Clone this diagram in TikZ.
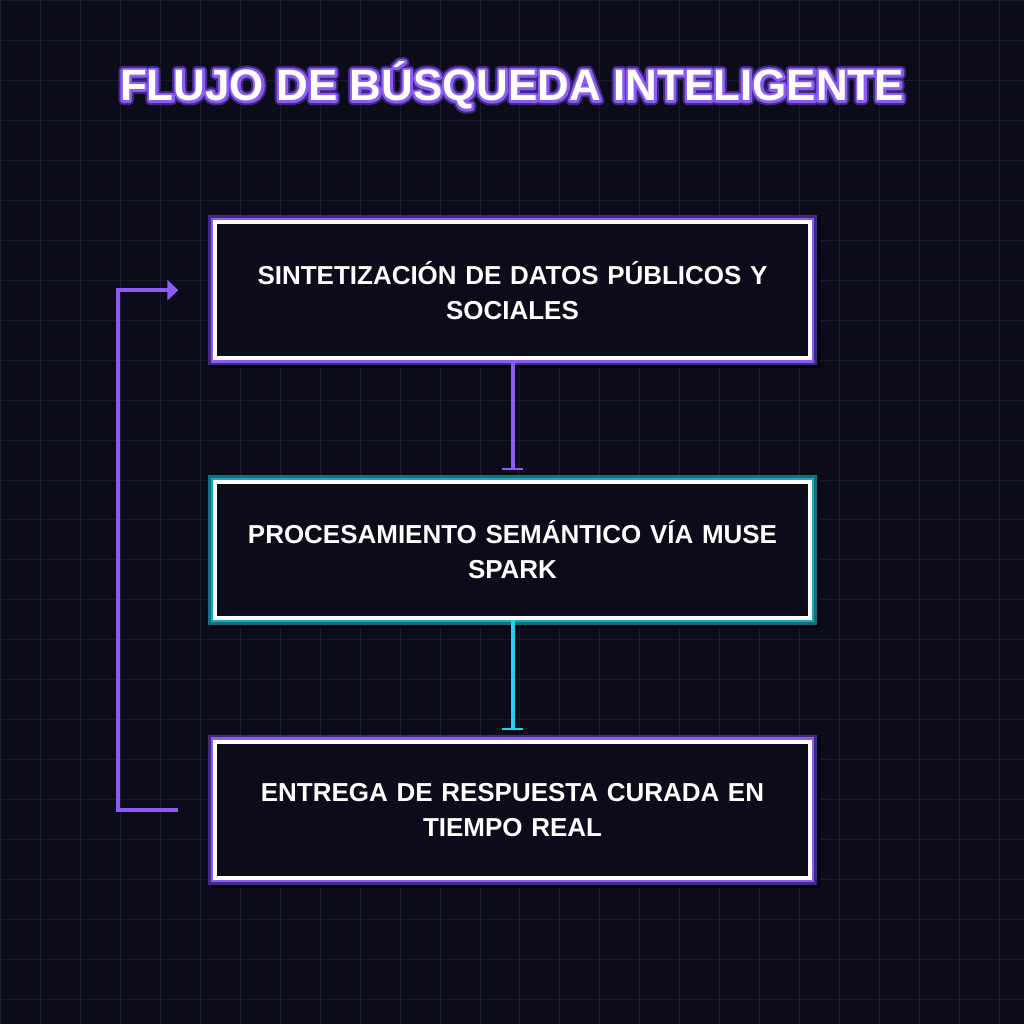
\documentclass[tikz,border=0pt]{standalone}
\usepackage{fontspec}
\setmainfont{Liberation Sans}
\usepackage{tikz}
\usetikzlibrary{arrows.meta,positioning,calc}
\definecolor{bgdark}{HTML}{0B0B19}
\definecolor{gridline}{HTML}{1A1A2E}
\definecolor{violetline}{HTML}{8B5CF6}
\definecolor{violetdeep}{HTML}{3E2A80}
\definecolor{cyanline}{HTML}{22D3EE}
\definecolor{cyandeep}{HTML}{10707E}
% outlined copy of a text (stroke width, stroke colour in rgb)
\newcommand{\strokedtext}[3]{\rlap{\special{pdf:literal direct q 1 j 2 Tr #1 w #2 RG}#3\special{pdf:literal direct Q}}}
\newcommand{\glowtitle}[1]{\strokedtext{9}{0.24 0.16 0.50}{#1}\strokedtext{5}{0.55 0.36 0.96}{#1}#1}

\begin{document}
\begin{tikzpicture}[x=1pt,y=-1pt,
  stepbox/.style={draw=white,line width=4pt,fill=bgdark,
        minimum width=595pt,minimum height=136pt,inner sep=0pt,
        text width=560pt,align=center,text=white,
        font=\bfseries\fontsize{26}{35}\selectfont},
  glowviolet/.style={
        preaction={draw=black,line width=14pt,transform canvas={shift={(3pt,-3pt)}}},
        preaction={draw=violetdeep,line width=14pt},
        preaction={draw=violetline,line width=9pt}},
  glowcyan/.style={
        preaction={draw=black,line width=14pt,transform canvas={shift={(3pt,-3pt)}}},
        preaction={draw=cyandeep,line width=14pt},
        preaction={draw=cyanline!80!black,line width=9pt}},
  flowline/.style={line width=4pt,-{Bar[width=21pt,line width=2pt]},shorten >=10pt}]

  % background and grid
  \fill[bgdark] (0,0) rectangle (1024,1024);
  \foreach \g in {0,40,...,1000} {
    \draw[gridline,line width=1pt] (\g,0) -- (\g,1024);
    \draw[gridline,line width=1pt] (0,\g) -- (1024,\g);
  }
  \useasboundingbox (0,0) rectangle (1024,1024);

  % title
  \node[text=white,font=\bfseries\fontsize{44}{50}\selectfont] (title)
    at (512,85) {\glowtitle{FLUJO DE BÚSQUEDA INTELIGENTE}};

  % steps
  \node[stepbox,glowviolet] (sint) at (512.5,290)
    {SINTETIZACIÓN DE DATOS PÚBLICOS Y\\SOCIALES};
  \node[stepbox,glowcyan] (proc) at (512.5,550)
    {PROCESAMIENTO SEMÁNTICO VÍA MUSE\\SPARK};
  \node[stepbox,glowviolet] (entr) at (512.5,810)
    {ENTREGA DE RESPUESTA CURADA EN\\TIEMPO REAL};

  \draw[flowline,violetline] (sint.south) -- (proc.north);
  \draw[flowline,cyanline] (proc.south) -- (entr.north);

  % feedback loop
  \coordinate (loopout) at ([xshift=-35pt]entr.west);
  \coordinate (loopin) at ([xshift=-35pt]sint.west);
  \draw[violetline,line width=4pt,-{Triangle[length=11pt,width=20pt]}]
    (loopout) -- ++(-60,0) |- (loopin);
\end{tikzpicture}
\end{document}
